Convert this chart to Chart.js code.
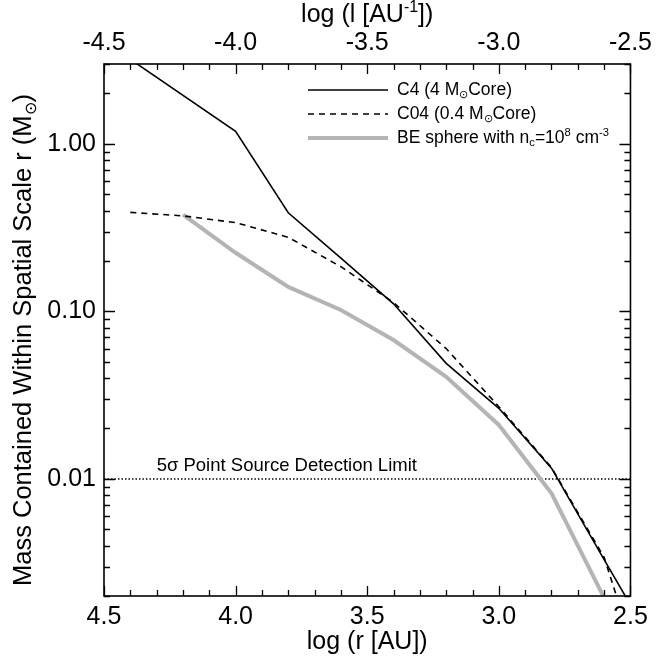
<!DOCTYPE html>
<html><head><meta charset="utf-8">
<script src="https://cdn.jsdelivr.net/npm/chart.js@4/dist/chart.umd.min.js"></script>
<style>html,body{margin:0;padding:0;background:#fff}#wrap{width:658px;height:660px;position:relative}</style>
</head><body><div id="wrap"><canvas id="c" width="658" height="660"></canvas></div>
<script>
// ---- data (log r [AU] and mass in solar masses) ----
const c4LogR  = [4.4, 4.0, 3.8, 3.6, 3.4, 3.2, 3.0, 2.8, 2.6, 2.5];
const c4Mass  = [3.2, 1.19, 0.388, 0.208, 0.111, 0.049, 0.0264, 0.0116, 0.0033, 0.00177];
const c04LogR = [4.4, 4.2, 4.0, 3.8, 3.6, 3.4, 3.2, 3.0, 2.8, 2.6, 2.5];
const c04Mass = [0.39, 0.372, 0.339, 0.277, 0.185, 0.113, 0.060, 0.027, 0.0117, 0.0034, 0.0011];
const beLogR  = [4.2, 4.0, 3.8, 3.6, 3.4, 3.2, 3.0, 2.8, 2.6];
const beMass  = [0.378, 0.224, 0.140, 0.102, 0.0675, 0.0407, 0.021, 0.0082, 0.00195];
const limitLogR = [2.5, 4.5];
const limitMass = [0.01, 0.01];
const bottomTicks = [4.5, 4.0, 3.5, 3.0, 2.5];
const topTicks = [-4.5, -4.0, -3.5, -3.0, -2.5];
const massTicks = [0.01, 0.10, 1.00];
const seriesNames = ['C4', 'C04', 'BE sphere'];

const FONT = '"Liberation Sans", Arial, Helvetica, sans-serif';
const GRAY = 'rgb(180,180,180)';

function pts(xs, ys) { return xs.map((x, i) => ({ x: x, y: ys[i] })); }

function drawRich(ctx, segs, x, y, size, align) {
  let w = 0;
  const parts = segs.map(sg => {
    const fs = sg.s ? size * 0.64 : size;
    ctx.font = fs + 'px ' + FONT;
    const mw = ctx.measureText(sg.t).width;
    w += mw;
    return { sg, fs, mw };
  });
  let cx = align === 'center' ? x - w / 2 : x;
  ctx.textAlign = 'left';
  ctx.textBaseline = 'alphabetic';
  for (const p of parts) {
    ctx.font = p.fs + 'px ' + FONT;
    const dy = p.sg.s === 'sup' ? -size * 0.40 : (p.sg.s === 'sub' ? size * 0.18 : 0);
    ctx.fillText(p.sg.t, cx, y + dy);
    cx += p.mw;
  }
}

const legendRows = [
  { style: 'solid', segs: [{ t: 'C4 (4 M' }, { t: '\u2299', s: 'sub' }, { t: 'Core)' }] },
  { style: 'dash', segs: [{ t: 'C04 (0.4 M' }, { t: '\u2299', s: 'sub' }, { t: 'Core)' }] },
  { style: 'gray', segs: [{ t: 'BE sphere with n' }, { t: 'c', s: 'sub' }, { t: '=10' }, { t: '8', s: 'sup' }, { t: ' cm' }, { t: '-3', s: 'sup' }] }
];

const decor = {
  id: 'decor',
  afterDraw(chart) {
    const ctx = chart.ctx, a = chart.chartArea;
    const xs = chart.scales.x, xt = chart.scales.xTop, ys = chart.scales.y;
    ctx.save();
    ctx.strokeStyle = '#000';
    ctx.fillStyle = '#000';
    ctx.lineWidth = 1.3;
    ctx.setLineDash([]);
    // x ticks (every 0.1, major every 0.5)
    for (let i = 0; i <= 20; i++) {
      const v = 2.5 + i * 0.1;
      const pb = Math.round(xs.getPixelForValue(v)) + 0.5;
      const pt = Math.round(xt.getPixelForValue(-v)) + 0.5;
      const L = (i % 5 === 0) ? 10 : 6;
      ctx.beginPath();
      ctx.moveTo(pb, a.bottom); ctx.lineTo(pb, a.bottom - L);
      ctx.moveTo(pt, a.top); ctx.lineTo(pt, a.top + L);
      ctx.stroke();
    }
    // y ticks (log)
    [0.001, 0.01, 0.1, 1].forEach(d => {
      for (let m = 1; m <= 9; m++) {
        const v = m * d;
        if (v < 0.002 - 1e-9 || v > 3 + 1e-9) continue;
        const py = Math.round(ys.getPixelForValue(v)) + 0.5;
        const L = m === 1 ? 11 : 6;
        ctx.beginPath();
        ctx.moveTo(a.left, py); ctx.lineTo(a.left + L, py);
        ctx.moveTo(a.right, py); ctx.lineTo(a.right - L, py);
        ctx.stroke();
      }
    });
    // frame
    ctx.lineWidth = 1.6;
    ctx.strokeRect(a.left, a.top, a.right - a.left, a.bottom - a.top);

    // axis titles
    ctx.fillStyle = '#000';
    drawRich(ctx, [{ t: 'log (r [AU])' }], (a.left + a.right) / 2, 649, 25, 'center');
    drawRich(ctx, [{ t: 'log (l [AU' }, { t: '-1', s: 'sup' }, { t: '])' }], (a.left + a.right) / 2, 22, 25, 'center');
    ctx.save();
    ctx.translate(31, 340);
    ctx.rotate(-Math.PI / 2);
    drawRich(ctx, [{ t: 'Mass Contained Within Spatial Scale r (M' }, { t: '\u2299', s: 'sub' }, { t: ')' }], 0, 0, 25.5, 'center');
    ctx.restore();

    // detection limit label
    drawRich(ctx, [{ t: '5\u03c3 Point Source Detection Limit' }], xs.getPixelForValue(4.3), ys.getPixelForValue(0.01) - 8, 18.5, 'left');

    // legend
    const lx0 = a.left + 204, lx1 = a.left + 284, tx = a.left + 293;
    const base = [95, 119, 143];
    legendRows.forEach((r, i) => {
      const ly = base[i] - 5;
      ctx.beginPath();
      if (r.style === 'gray') { ctx.strokeStyle = GRAY; ctx.lineWidth = 4; ctx.setLineDash([]); }
      else if (r.style === 'dash') { ctx.strokeStyle = '#000'; ctx.lineWidth = 1.6; ctx.setLineDash([6, 5]); }
      else { ctx.strokeStyle = '#000'; ctx.lineWidth = 1.6; ctx.setLineDash([]); }
      ctx.moveTo(lx0, ly); ctx.lineTo(lx1, ly);
      ctx.stroke();
      ctx.setLineDash([]);
      ctx.fillStyle = '#000';
      drawRich(ctx, r.segs, tx, base[i], 17.5, 'left');
    });
    ctx.restore();
  }
};

const commonTicks = { font: { size: 25, family: FONT }, color: '#000', maxRotation: 0, autoSkip: false };

new Chart(document.getElementById('c'), {
  type: 'scatter',
  data: {
    datasets: [
      { label: seriesNames[0], data: pts(c4LogR, c4Mass), showLine: true, borderColor: '#000', borderWidth: 1.6, pointRadius: 0, clip: 0, order: 1 },
      { label: seriesNames[1], data: pts(c04LogR, c04Mass), showLine: true, borderColor: '#000', borderWidth: 1.6, borderDash: [6, 5], pointRadius: 0, clip: 0, order: 2 },
      { label: seriesNames[2], data: pts(beLogR, beMass), showLine: true, borderColor: GRAY, borderWidth: 4, pointRadius: 0, clip: 0, order: 3 },
      { label: 'limit', data: pts(limitLogR, limitMass), showLine: true, borderColor: '#000', borderWidth: 1.5, borderDash: [1.5, 2], pointRadius: 0, clip: 0, order: 4 }
    ]
  },
  options: {
    responsive: false,
    animation: false,
    devicePixelRatio: 1,
    layout: { padding: 0 },
    plugins: { legend: { display: false }, tooltip: { enabled: false } },
    scales: {
      x: {
        type: 'linear', position: 'bottom', min: 2.5, max: 4.5, reverse: true,
        grid: { display: false, drawTicks: false }, border: { display: false },
        afterBuildTicks: s => { s.ticks = bottomTicks.map(v => ({ value: v })); },
        ticks: Object.assign({ padding: 6, callback: v => Number(v).toFixed(1) }, commonTicks),
        afterFit: s => { s.height = 64; }
      },
      xTop: {
        type: 'linear', position: 'top', min: -4.5, max: -2.5,
        grid: { display: false, drawTicks: false }, border: { display: false },
        afterBuildTicks: s => { s.ticks = topTicks.map(v => ({ value: v })); },
        ticks: Object.assign({ padding: 6, callback: v => Number(v).toFixed(1) }, commonTicks),
        afterFit: s => { s.height = 64; }
      },
      y: {
        type: 'logarithmic', position: 'left', min: 0.002, max: 3,
        grid: { display: false, drawTicks: false }, border: { display: false },
        afterBuildTicks: s => { s.ticks = massTicks.map(v => ({ value: v })); },
        ticks: Object.assign({ padding: 8, callback: v => Number(v).toFixed(2) }, commonTicks),
        afterFit: s => { s.width = 104; }
      },
      yRight: {
        type: 'logarithmic', position: 'right', min: 0.002, max: 3,
        grid: { display: false, drawTicks: false }, border: { display: false },
        ticks: { display: false },
        afterFit: s => { s.width = 21; }
      }
    }
  },
  plugins: [decor]
});
</script>
</body></html>
